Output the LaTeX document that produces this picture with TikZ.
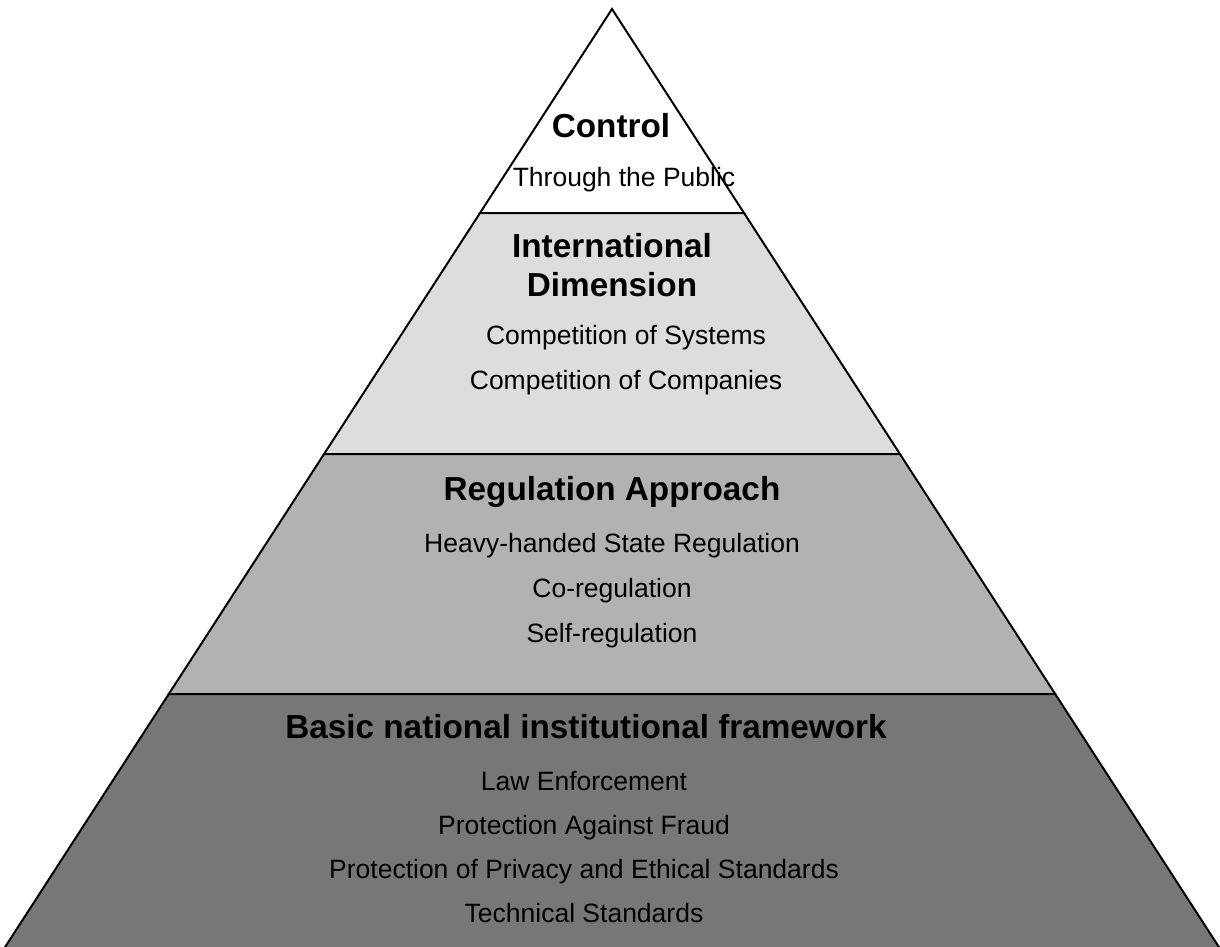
\documentclass[tikz,border=0pt]{standalone}
\usepackage{fontspec}
\setmainfont{Liberation Sans}
\usetikzlibrary{positioning}
\definecolor{tierA}{gray}{0.867}
\definecolor{tierB}{gray}{0.698}
\definecolor{tierC}{gray}{0.467}

\begin{document}
\begin{tikzpicture}[x=1pt,y=-1pt]
 \tikzset{tier/.style={draw=black, line width=2pt, line join=miter}, }
 \tikzset{head node/.style={anchor=base, inner sep=0pt, align=center,
 		font=\fontsize{33.3}{39}\selectfont\bfseries}, }
 \tikzset{item node/.style={anchor=base, inner sep=0pt,
 		font=\fontsize{26.5}{32}\selectfont}, }
 \useasboundingbox (0,0) rectangle (1220,947);
 % corners of the pyramid and of its tiers
 \coordinate (top) at (612,9);
 \coordinate (l1) at (480.0,213); \coordinate (r1) at (744.0,213);
 \coordinate (l2) at (324.1,454); \coordinate (r2) at (899.9,454);
 \coordinate (l3) at (168.8,694); \coordinate (r3) at (1055.2,694);
 \coordinate (l4) at (-3.3,960);  \coordinate (r4) at (1227.3,960);
 \filldraw[tier, fill=white] (top) -- (r1) -- (l1) -- cycle;
 \filldraw[tier, fill=tierA] (l1) -- (r1) -- (r2) -- (l2) -- cycle;
 \filldraw[tier, fill=tierB] (l2) -- (r2) -- (r3) -- (l3) -- cycle;
 \filldraw[tier, fill=tierC] (l3) -- (r3) -- (r4) -- (l4) -- cycle;
 % headings
 \node[head node] (control) at (611,138) {Control};
 \node[head node] (intl) at (612,296) {International\\Dimension};
 \node[head node] (regul) at (612,500) {Regulation Approach};
 \node[head node] (basic) at (586,738) {Basic national institutional framework};
 % items
 \node[item node] (public) at (624,186) {Through the Public};
 \foreach \name/\y/\txt in {systems/344/Competition of Systems,
 		companies/389/Competition of Companies}
 \node[item node] (\name) at (626,\y) {\txt};
 \foreach \name/\y/\txt in {heavy/552/Heavy-handed State Regulation,
 		coreg/597/Co-regulation, selfreg/642/Self-regulation}
 \node[item node] (\name) at (612,\y) {\txt};
 \foreach \name/\y/\txt in {law/790/Law Enforcement,
 		fraud/834/Protection Against Fraud,
 		privacy/878/Protection of Privacy and Ethical Standards,
 		technical/922/Technical Standards}
 \node[item node] (\name) at (584,\y) {\txt};
 %
\end{tikzpicture}
\end{document}
